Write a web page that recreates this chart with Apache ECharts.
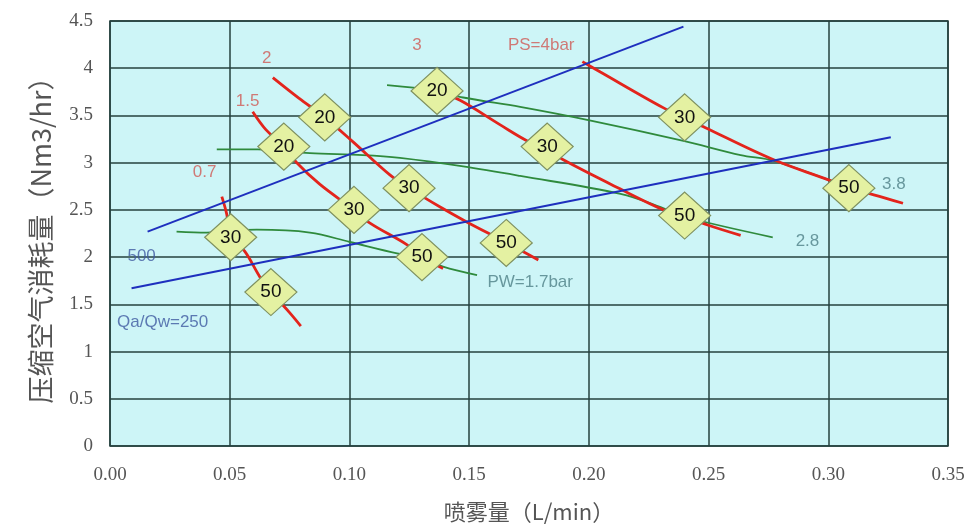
<!DOCTYPE html>
<html>
<head>
<meta charset="utf-8">
<script src="https://cdn.jsdelivr.net/npm/echarts@6/dist/echarts.min.js"></script>
<style>
  html, body { margin: 0; padding: 0; background: #ffffff; }
  #chart { width: 970px; height: 529px; }
</style>
</head>
<body>
<div id="chart"></div>
<script>
// Spray volume (L/min) vs compressed-air consumption (Nm3/hr)

// Axis ticks
const xTicks = [0, 0.05, 0.10, 0.15, 0.20, 0.25, 0.30, 0.35];
const yTicks = [0, 0.5, 1, 1.5, 2, 2.5, 3, 3.5, 4, 4.5];

// Air pressure curves (PS, bar): [spray, air]
const ps07 = [[0.0467,2.64],[0.0488,2.45],[0.0504,2.21],[0.0563,2.06],[0.0626,1.79],[0.0676,1.62],[0.0751,1.41],[0.0797,1.27]];
const ps15 = [[0.0596,3.54],[0.0651,3.35],[0.0726,3.17],[0.0780,3.00],[0.0877,2.77],[0.1019,2.50],[0.1086,2.36],[0.1241,2.13],[0.1303,2.00],[0.1391,1.88]];
const ps20 = [[0.0680,3.90],[0.0790,3.68],[0.0897,3.48],[0.1015,3.22],[0.1169,2.87],[0.1249,2.73],[0.1379,2.53],[0.1492,2.37],[0.1651,2.16],[0.1789,1.97]];
const ps30 = [[0.1366,3.76],[0.1462,3.66],[0.1630,3.40],[0.1743,3.23],[0.1826,3.14],[0.1893,3.03],[0.2132,2.72],[0.2312,2.50],[0.2400,2.43],[0.2496,2.34],[0.2634,2.23]];
const ps40 = [[0.1973,4.07],[0.2048,3.96],[0.2312,3.58],[0.2400,3.48],[0.2487,3.37],[0.2772,3.03],[0.2998,2.82],[0.3086,2.73],[0.3190,2.66],[0.3312,2.57]];

// Water pressure curves (PW, bar)
const pw17 = [[0.0278,2.27],[0.0404,2.26],[0.0613,2.29],[0.0835,2.26],[0.1002,2.16],[0.1199,2.04],[0.1303,1.99],[0.1391,1.90],[0.1533,1.81]];
const pw28 = [[0.0446,3.14],[0.0617,3.14],[0.0835,3.10],[0.1056,3.08],[0.1211,3.05],[0.1475,2.96],[0.1713,2.86],[0.2132,2.67],[0.2300,2.53],[0.2395,2.43],[0.2768,2.21]];
const pw38 = [[0.1157,3.82],[0.1366,3.76],[0.1475,3.69],[0.1713,3.59],[0.1998,3.45],[0.2395,3.23],[0.2634,3.08],[0.2772,3.02],[0.2998,2.82],[0.3086,2.73]];

// Air/water ratio lines (Qa/Qw)
const ratio500 = [[0.0157,2.27],[0.2395,4.44]];
const ratio250 = [[0.0090,1.67],[0.3261,3.27]];

// Spray particle size markers (μm): [spray, air, size]
const sizeMarks = [
  [0.0726,3.17,20],[0.0897,3.48,20],[0.1366,3.76,20],
  [0.0504,2.21,30],[0.1019,2.50,30],[0.1249,2.73,30],[0.1826,3.17,30],[0.2400,3.48,30],
  [0.0672,1.63,50],[0.1303,2.00,50],[0.1655,2.15,50],[0.2400,2.44,50],[0.3086,2.73,50]
];

// Curve captions, anchored in data units
const psCaptions    = [['0.7',0.0395,2.90],['1.5',0.0575,3.65],['2',0.0655,4.10],['3',0.1282,4.24],['PS=4bar',0.1801,4.24]];
const pwCaptions    = [['PW=1.7bar',0.1755,1.73],['2.8',0.2913,2.17],['3.8',0.3274,2.77]];
const ratioCaptions = [['500',0.0132,2.01],['Qa/Qw=250',0.0220,1.31]];

const RED = '#e3241c', GREEN = '#2f8a3c', BLUE = '#1e2fbe';
const LATIN = 'Liberation Sans, Arial, sans-serif';
const SERIF = 'Liberation Serif, DejaVu Serif, serif';

function curve(data, color, width) {
  return {
    type: 'line', data: data, smooth: 0.35, symbol: 'none', silent: true,
    lineStyle: { color: color, width: width }
  };
}

function captions(items, color) {
  return {
    type: 'scatter', symbolSize: 0, silent: true, z: 6,
    data: items.map(c => ({ value: [c[1], c[2]], name: c[0] })),
    label: {
      show: true, position: 'inside', formatter: p => p.name,
      color: color, fontSize: 17, fontFamily: LATIN
    }
  };
}

const chart = echarts.init(document.getElementById('chart'), null, { renderer: 'canvas' });

chart.setOption({
  backgroundColor: '#ffffff',
  animation: false,
  grid: {
    left: 110, top: 21, right: 22, bottom: 83,
    show: true, backgroundColor: '#cdf5f7', borderColor: '#24403e', borderWidth: 1.5
  },
  xAxis: {
    type: 'value', min: xTicks[0], max: xTicks[xTicks.length - 1], interval: 0.05,
    name: '喷雾量（L/min）', nameLocation: 'middle', nameGap: 55,
    nameTextStyle: { fontSize: 22, color: '#555', fontFamily: 'Noto Sans CJK SC' },
    axisLine: { show: false }, axisTick: { show: false },
    splitLine: { show: true, lineStyle: { color: '#24403e', width: 1.5 } },
    axisLabel: {
      margin: 20, fontSize: 19, color: '#555', fontFamily: SERIF,
      formatter: v => v.toFixed(2)
    }
  },
  yAxis: {
    type: 'value', min: yTicks[0], max: yTicks[yTicks.length - 1], interval: 0.5,
    name: '压缩空气消耗量（Nm3/hr）', nameLocation: 'middle', nameGap: 56, nameRotate: 90,
    nameTextStyle: { fontSize: 27, color: '#555', fontFamily: 'Noto Sans CJK SC' },
    axisLine: { show: false }, axisTick: { show: false },
    splitLine: { show: true, lineStyle: { color: '#24403e', width: 1.5 } },
    axisLabel: {
      margin: 17, fontSize: 19, color: '#555', fontFamily: SERIF,
      formatter: v => String(v)
    }
  },
  series: [
    curve(pw17, GREEN, 1.8), curve(pw28, GREEN, 1.8), curve(pw38, GREEN, 1.8),
    curve(ps07, RED, 2.8), curve(ps15, RED, 2.8), curve(ps20, RED, 2.8), curve(ps30, RED, 2.8), curve(ps40, RED, 2.8),
    curve(ratio500, BLUE, 2), curve(ratio250, BLUE, 2),
    {
      type: 'scatter', silent: true, z: 5,
      symbol: 'diamond', symbolSize: [52, 47],
      itemStyle: { color: '#e4f1a2', borderColor: '#7f9160', borderWidth: 1.2, opacity: 1 },
      data: sizeMarks.map(m => ({ value: [m[0], m[1]], name: String(m[2]) })),
      label: {
        show: true, position: 'inside', formatter: p => p.name,
        color: '#111', fontSize: 19, fontFamily: LATIN
      }
    },
    captions(psCaptions, '#cf5a55'),
    captions(pwCaptions, '#4d7f86'),
    captions(ratioCaptions, '#3e5aa0')
  ]
});
</script>
</body>
</html>
